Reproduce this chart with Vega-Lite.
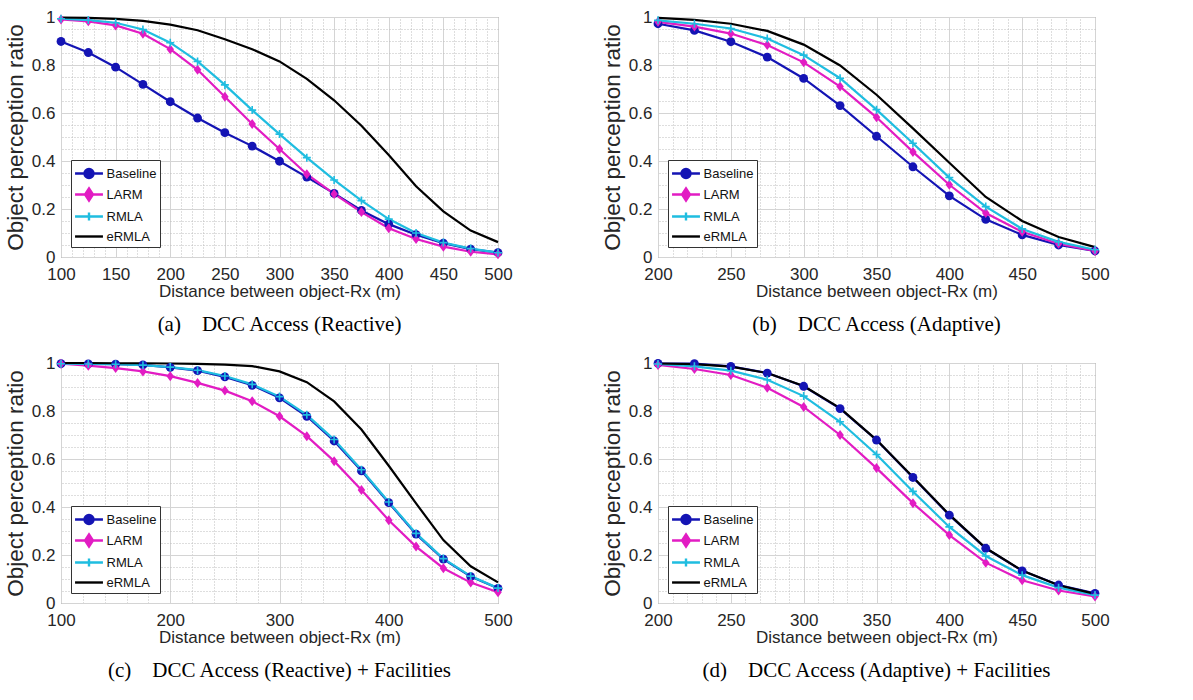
{
  "$schema": "https://vega.github.io/schema/vega-lite/v6.json",
  "padding": {"left": 3, "top": 7, "right": 5, "bottom": 5},
  "background": "white",
  "config": {
    "view": {"stroke": "#737373", "strokeWidth": 1},
    "axis": {"labelFont": "Liberation Sans", "titleFont": "Liberation Sans", "labelFontSize": 17, "titleFontSize": 17, "labelColor": "#262626", "titleColor": "#262626", "titleFontWeight": "normal", "domain": false, "ticks": false, "grid": true, "gridColor": "#d4d4d4", "gridWidth": 1, "labelFlush": false},
    "axisX": {"labelPadding": 9, "titlePadding": 1},
    "axisY": {"labelPadding": 6, "titlePadding": 4},
    "title": {"font": "Liberation Serif", "fontSize": 21, "fontWeight": "normal", "color": "#000000", "orient": "bottom", "offset": 15, "frame": "group", "anchor": "middle"},
    "legend": {"orient": "bottom-left", "offset": 10, "padding": 3, "rowPadding": 0, "symbolSize": 324, "symbolStrokeWidth": 2.4, "symbolOpacity": 1, "symbolOffset": 4.5, "labelFont": "Liberation Sans", "labelFontSize": 13, "labelOffset": 7, "labelColor": "#111111", "strokeColor": "#333333", "fillColor": "#ffffff", "cornerRadius": 0,
      "symbolType": {"expr": "datum.value === 'Baseline' ? 'M-1.55,0H1.55M0.5,0A0.5,0.5,0,1,1,-0.5,0A0.5,0.5,0,1,1,0.5,0Z' : datum.value === 'LARM' ? 'M-1.55,0H1.55M0,-0.67L0.44,0L0,0.67L-0.44,0Z' : datum.value === 'RMLA' ? 'M-1.55,0H1.55M0,-0.44V0.44' : 'M-1.55,0H1.55'"},
      "symbolFillColor": {"expr": "datum.value === 'Baseline' ? '#1414b4' : datum.value === 'LARM' ? '#e21cc3' : 'transparent'"}
    }
  },
  "datasets": {
    "a": [
      {"d":100,"s":"Baseline","r":0.898},{"d":125,"s":"Baseline","r":0.852},{"d":150,"s":"Baseline","r":0.791},{"d":175,"s":"Baseline","r":0.719},{"d":200,"s":"Baseline","r":0.647},{"d":225,"s":"Baseline","r":0.579},{"d":250,"s":"Baseline","r":0.518},{"d":275,"s":"Baseline","r":0.462},{"d":300,"s":"Baseline","r":0.399},{"d":325,"s":"Baseline","r":0.333},{"d":350,"s":"Baseline","r":0.265},{"d":375,"s":"Baseline","r":0.194},{"d":400,"s":"Baseline","r":0.137},{"d":425,"s":"Baseline","r":0.093},{"d":450,"s":"Baseline","r":0.058},{"d":475,"s":"Baseline","r":0.033},{"d":500,"s":"Baseline","r":0.018},
      {"d":100,"s":"LARM","r":0.99},{"d":125,"s":"LARM","r":0.982},{"d":150,"s":"LARM","r":0.965},{"d":175,"s":"LARM","r":0.93},{"d":200,"s":"LARM","r":0.866},{"d":225,"s":"LARM","r":0.78},{"d":250,"s":"LARM","r":0.668},{"d":275,"s":"LARM","r":0.554},{"d":300,"s":"LARM","r":0.45},{"d":325,"s":"LARM","r":0.345},{"d":350,"s":"LARM","r":0.263},{"d":375,"s":"LARM","r":0.187},{"d":400,"s":"LARM","r":0.12},{"d":425,"s":"LARM","r":0.075},{"d":450,"s":"LARM","r":0.043},{"d":475,"s":"LARM","r":0.022},{"d":500,"s":"LARM","r":0.011},
      {"d":100,"s":"RMLA","r":0.993},{"d":125,"s":"RMLA","r":0.987},{"d":150,"s":"RMLA","r":0.976},{"d":175,"s":"RMLA","r":0.948},{"d":200,"s":"RMLA","r":0.893},{"d":225,"s":"RMLA","r":0.815},{"d":250,"s":"RMLA","r":0.717},{"d":275,"s":"RMLA","r":0.612},{"d":300,"s":"RMLA","r":0.512},{"d":325,"s":"RMLA","r":0.414},{"d":350,"s":"RMLA","r":0.321},{"d":375,"s":"RMLA","r":0.235},{"d":400,"s":"RMLA","r":0.158},{"d":425,"s":"RMLA","r":0.1},{"d":450,"s":"RMLA","r":0.06},{"d":475,"s":"RMLA","r":0.035},{"d":500,"s":"RMLA","r":0.018},
      {"d":100,"s":"eRMLA","r":0.998},{"d":125,"s":"eRMLA","r":0.996},{"d":150,"s":"eRMLA","r":0.992},{"d":175,"s":"eRMLA","r":0.984},{"d":200,"s":"eRMLA","r":0.968},{"d":225,"s":"eRMLA","r":0.945},{"d":250,"s":"eRMLA","r":0.907},{"d":275,"s":"eRMLA","r":0.866},{"d":300,"s":"eRMLA","r":0.815},{"d":325,"s":"eRMLA","r":0.742},{"d":350,"s":"eRMLA","r":0.653},{"d":375,"s":"eRMLA","r":0.547},{"d":400,"s":"eRMLA","r":0.425},{"d":425,"s":"eRMLA","r":0.295},{"d":450,"s":"eRMLA","r":0.19},{"d":475,"s":"eRMLA","r":0.11},{"d":500,"s":"eRMLA","r":0.062}
    ],
    "b": [
      {"d":200,"s":"Baseline","r":0.972},{"d":225,"s":"Baseline","r":0.944},{"d":250,"s":"Baseline","r":0.897},{"d":275,"s":"Baseline","r":0.833},{"d":300,"s":"Baseline","r":0.744},{"d":325,"s":"Baseline","r":0.631},{"d":350,"s":"Baseline","r":0.503},{"d":375,"s":"Baseline","r":0.376},{"d":400,"s":"Baseline","r":0.255},{"d":425,"s":"Baseline","r":0.157},{"d":450,"s":"Baseline","r":0.092},{"d":475,"s":"Baseline","r":0.05},{"d":500,"s":"Baseline","r":0.025},
      {"d":200,"s":"LARM","r":0.98},{"d":225,"s":"LARM","r":0.96},{"d":250,"s":"LARM","r":0.931},{"d":275,"s":"LARM","r":0.883},{"d":300,"s":"LARM","r":0.811},{"d":325,"s":"LARM","r":0.71},{"d":350,"s":"LARM","r":0.582},{"d":375,"s":"LARM","r":0.438},{"d":400,"s":"LARM","r":0.301},{"d":425,"s":"LARM","r":0.183},{"d":450,"s":"LARM","r":0.105},{"d":475,"s":"LARM","r":0.055},{"d":500,"s":"LARM","r":0.025},
      {"d":200,"s":"RMLA","r":0.986},{"d":225,"s":"RMLA","r":0.972},{"d":250,"s":"RMLA","r":0.952},{"d":275,"s":"RMLA","r":0.91},{"d":300,"s":"RMLA","r":0.841},{"d":325,"s":"RMLA","r":0.745},{"d":350,"s":"RMLA","r":0.614},{"d":375,"s":"RMLA","r":0.474},{"d":400,"s":"RMLA","r":0.331},{"d":425,"s":"RMLA","r":0.21},{"d":450,"s":"RMLA","r":0.117},{"d":475,"s":"RMLA","r":0.063},{"d":500,"s":"RMLA","r":0.03},
      {"d":200,"s":"eRMLA","r":0.996},{"d":225,"s":"eRMLA","r":0.988},{"d":250,"s":"eRMLA","r":0.972},{"d":275,"s":"eRMLA","r":0.942},{"d":300,"s":"eRMLA","r":0.885},{"d":325,"s":"eRMLA","r":0.798},{"d":350,"s":"eRMLA","r":0.676},{"d":375,"s":"eRMLA","r":0.536},{"d":400,"s":"eRMLA","r":0.393},{"d":425,"s":"eRMLA","r":0.25},{"d":450,"s":"eRMLA","r":0.15},{"d":475,"s":"eRMLA","r":0.083},{"d":500,"s":"eRMLA","r":0.041}
    ],
    "c": [
      {"d":100,"s":"Baseline","r":0.997},{"d":125,"s":"Baseline","r":0.996},{"d":150,"s":"Baseline","r":0.995},{"d":175,"s":"Baseline","r":0.992},{"d":200,"s":"Baseline","r":0.982},{"d":225,"s":"Baseline","r":0.968},{"d":250,"s":"Baseline","r":0.942},{"d":275,"s":"Baseline","r":0.907},{"d":300,"s":"Baseline","r":0.855},{"d":325,"s":"Baseline","r":0.778},{"d":350,"s":"Baseline","r":0.675},{"d":375,"s":"Baseline","r":0.551},{"d":400,"s":"Baseline","r":0.418},{"d":425,"s":"Baseline","r":0.287},{"d":450,"s":"Baseline","r":0.183},{"d":475,"s":"Baseline","r":0.11},{"d":500,"s":"Baseline","r":0.061},
      {"d":100,"s":"LARM","r":0.997},{"d":125,"s":"LARM","r":0.989},{"d":150,"s":"LARM","r":0.979},{"d":175,"s":"LARM","r":0.965},{"d":200,"s":"LARM","r":0.945},{"d":225,"s":"LARM","r":0.917},{"d":250,"s":"LARM","r":0.885},{"d":275,"s":"LARM","r":0.841},{"d":300,"s":"LARM","r":0.778},{"d":325,"s":"LARM","r":0.695},{"d":350,"s":"LARM","r":0.591},{"d":375,"s":"LARM","r":0.471},{"d":400,"s":"LARM","r":0.345},{"d":425,"s":"LARM","r":0.235},{"d":450,"s":"LARM","r":0.145},{"d":475,"s":"LARM","r":0.085},{"d":500,"s":"LARM","r":0.045},
      {"d":100,"s":"RMLA","r":0.997},{"d":125,"s":"RMLA","r":0.996},{"d":150,"s":"RMLA","r":0.995},{"d":175,"s":"RMLA","r":0.991},{"d":200,"s":"RMLA","r":0.983},{"d":225,"s":"RMLA","r":0.97},{"d":250,"s":"RMLA","r":0.946},{"d":275,"s":"RMLA","r":0.911},{"d":300,"s":"RMLA","r":0.86},{"d":325,"s":"RMLA","r":0.784},{"d":350,"s":"RMLA","r":0.681},{"d":375,"s":"RMLA","r":0.555},{"d":400,"s":"RMLA","r":0.421},{"d":425,"s":"RMLA","r":0.29},{"d":450,"s":"RMLA","r":0.185},{"d":475,"s":"RMLA","r":0.112},{"d":500,"s":"RMLA","r":0.062},
      {"d":100,"s":"eRMLA","r":1.0},{"d":125,"s":"eRMLA","r":1.0},{"d":150,"s":"eRMLA","r":0.999},{"d":175,"s":"eRMLA","r":0.999},{"d":200,"s":"eRMLA","r":0.998},{"d":225,"s":"eRMLA","r":0.996},{"d":250,"s":"eRMLA","r":0.993},{"d":275,"s":"eRMLA","r":0.987},{"d":300,"s":"eRMLA","r":0.965},{"d":325,"s":"eRMLA","r":0.92},{"d":350,"s":"eRMLA","r":0.84},{"d":375,"s":"eRMLA","r":0.723},{"d":400,"s":"eRMLA","r":0.572},{"d":425,"s":"eRMLA","r":0.415},{"d":450,"s":"eRMLA","r":0.262},{"d":475,"s":"eRMLA","r":0.153},{"d":500,"s":"eRMLA","r":0.086}
    ],
    "d": [
      {"d":200,"s":"Baseline","r":0.998},{"d":225,"s":"Baseline","r":0.997},{"d":250,"s":"Baseline","r":0.986},{"d":275,"s":"Baseline","r":0.958},{"d":300,"s":"Baseline","r":0.903},{"d":325,"s":"Baseline","r":0.81},{"d":350,"s":"Baseline","r":0.679},{"d":375,"s":"Baseline","r":0.523},{"d":400,"s":"Baseline","r":0.366},{"d":425,"s":"Baseline","r":0.228},{"d":450,"s":"Baseline","r":0.134},{"d":475,"s":"Baseline","r":0.075},{"d":500,"s":"Baseline","r":0.04},
      {"d":200,"s":"LARM","r":0.992},{"d":225,"s":"LARM","r":0.975},{"d":250,"s":"LARM","r":0.95},{"d":275,"s":"LARM","r":0.897},{"d":300,"s":"LARM","r":0.817},{"d":325,"s":"LARM","r":0.7},{"d":350,"s":"LARM","r":0.562},{"d":375,"s":"LARM","r":0.416},{"d":400,"s":"LARM","r":0.283},{"d":425,"s":"LARM","r":0.168},{"d":450,"s":"LARM","r":0.095},{"d":475,"s":"LARM","r":0.052},{"d":500,"s":"LARM","r":0.027},
      {"d":200,"s":"RMLA","r":0.996},{"d":225,"s":"RMLA","r":0.986},{"d":250,"s":"RMLA","r":0.968},{"d":275,"s":"RMLA","r":0.93},{"d":300,"s":"RMLA","r":0.862},{"d":325,"s":"RMLA","r":0.755},{"d":350,"s":"RMLA","r":0.619},{"d":375,"s":"RMLA","r":0.465},{"d":400,"s":"RMLA","r":0.317},{"d":425,"s":"RMLA","r":0.196},{"d":450,"s":"RMLA","r":0.116},{"d":475,"s":"RMLA","r":0.064},{"d":500,"s":"RMLA","r":0.033},
      {"d":200,"s":"eRMLA","r":0.998},{"d":225,"s":"eRMLA","r":0.995},{"d":250,"s":"eRMLA","r":0.985},{"d":275,"s":"eRMLA","r":0.958},{"d":300,"s":"eRMLA","r":0.904},{"d":325,"s":"eRMLA","r":0.812},{"d":350,"s":"eRMLA","r":0.68},{"d":375,"s":"eRMLA","r":0.525},{"d":400,"s":"eRMLA","r":0.368},{"d":425,"s":"eRMLA","r":0.229},{"d":450,"s":"eRMLA","r":0.135},{"d":475,"s":"eRMLA","r":0.074},{"d":500,"s":"eRMLA","r":0.038}
    ]
  },
  "resolve": {"scale": {"color": "independent"}, "legend": {"color": "independent"}},
  "spacing": 17,
  "vconcat": [
    {
      "bounds": "flush",
      "spacing": 160,
      "resolve": {"scale": {"color": "independent"}, "legend": {"color": "independent"}},
      "hconcat": [
        {
          "width": 437, "height": 240,
          "data": {"name": "a"},
          "title": {"text": "(a)\u00a0\u00a0\u00a0\u00a0DCC Access (Reactive)"},
          "resolve": {"axis": {"x": "independent", "y": "independent"}},
          "layer": [
            {
              "mark": {"type": "line", "strokeWidth": 2.2},
              "encoding": {
                "x": {"field": "d", "type": "quantitative", "scale": {"domain": [100, 500], "nice": false, "zero": false}, "axis": {"values": [100,150,200,250,300,350,400,450,500], "format": "d", "title": "Distance between object-Rx (m)"}},
                "y": {"field": "r", "type": "quantitative", "scale": {"domain": [0, 1], "nice": false, "zero": false}, "axis": {"values": [0,0.2,0.4,0.6,0.8,1], "format": "~g", "title": "Object perception ratio", "titleFontSize": 22.5}},
                "color": {"field": "s", "type": "nominal", "scale": {"domain": ["Baseline","LARM","RMLA","eRMLA"], "range": ["#1414b4","#e21cc3","#1fbde0","#000000"]}, "legend": {"title": null}}
              }
            },
            {
              "transform": [{"filter": "datum.s === 'Baseline'"}],
              "mark": {"type": "point", "shape": "circle", "filled": true, "size": 78, "color": "#1414b4", "opacity": 1},
              "encoding": {
                "x": {"field": "d", "type": "quantitative", "axis": {"orient": "top", "values": [110,120,130,140,160,170,180,190,210,220,230,240,260,270,280,290,310,320,330,340,360,370,380,390,410,420,430,440,460,470,480,490], "grid": true, "gridDash": [1,2], "gridColor": "#bdbdbd", "labels": false, "title": null}},
                "y": {"field": "r", "type": "quantitative", "axis": {"orient": "right", "values": [0.05,0.1,0.15,0.25,0.3,0.35,0.45,0.5,0.55,0.65,0.7,0.75,0.85,0.9,0.95], "grid": true, "gridDash": [1,2], "gridColor": "#bdbdbd", "labels": false, "title": null}}
              }
            },
            {
              "transform": [{"filter": "datum.s === 'LARM'"}],
              "mark": {"type": "point", "shape": "M0,-1L0.75,0L0,1L-0.75,0Z", "filled": true, "size": 100, "color": "#e21cc3", "opacity": 1},
              "encoding": {"x": {"field": "d", "type": "quantitative", "axis": null}, "y": {"field": "r", "type": "quantitative", "axis": null}}
            },
            {
              "transform": [{"filter": "datum.s === 'RMLA'"}],
              "mark": {"type": "point", "shape": "M-1,0H1M0,-1V1", "filled": false, "size": 64, "strokeWidth": 1.6, "color": "#1fbde0", "opacity": 1},
              "encoding": {"x": {"field": "d", "type": "quantitative", "axis": null}, "y": {"field": "r", "type": "quantitative", "axis": null}}
            }
          ]
        },
        {
          "width": 437, "height": 240,
          "data": {"name": "b"},
          "title": {"text": "(b)\u00a0\u00a0\u00a0\u00a0DCC Access (Adaptive)"},
          "resolve": {"axis": {"x": "independent", "y": "independent"}},
          "layer": [
            {
              "mark": {"type": "line", "strokeWidth": 2.2},
              "encoding": {
                "x": {"field": "d", "type": "quantitative", "scale": {"domain": [200, 500], "nice": false, "zero": false}, "axis": {"values": [200,250,300,350,400,450,500], "format": "d", "title": "Distance between object-Rx (m)"}},
                "y": {"field": "r", "type": "quantitative", "scale": {"domain": [0, 1], "nice": false, "zero": false}, "axis": {"values": [0,0.2,0.4,0.6,0.8,1], "format": "~g", "title": "Object perception ratio", "titleFontSize": 22.5}},
                "color": {"field": "s", "type": "nominal", "scale": {"domain": ["Baseline","LARM","RMLA","eRMLA"], "range": ["#1414b4","#e21cc3","#1fbde0","#000000"]}, "legend": {"title": null}}
              }
            },
            {
              "transform": [{"filter": "datum.s === 'Baseline'"}],
              "mark": {"type": "point", "shape": "circle", "filled": true, "size": 78, "color": "#1414b4", "opacity": 1},
              "encoding": {
                "x": {"field": "d", "type": "quantitative", "axis": {"orient": "top", "values": [210,220,230,240,260,270,280,290,310,320,330,340,360,370,380,390,410,420,430,440,460,470,480,490], "grid": true, "gridDash": [1,2], "gridColor": "#bdbdbd", "labels": false, "title": null}},
                "y": {"field": "r", "type": "quantitative", "axis": {"orient": "right", "values": [0.05,0.1,0.15,0.25,0.3,0.35,0.45,0.5,0.55,0.65,0.7,0.75,0.85,0.9,0.95], "grid": true, "gridDash": [1,2], "gridColor": "#bdbdbd", "labels": false, "title": null}}
              }
            },
            {
              "transform": [{"filter": "datum.s === 'LARM'"}],
              "mark": {"type": "point", "shape": "M0,-1L0.75,0L0,1L-0.75,0Z", "filled": true, "size": 100, "color": "#e21cc3", "opacity": 1},
              "encoding": {"x": {"field": "d", "type": "quantitative", "axis": null}, "y": {"field": "r", "type": "quantitative", "axis": null}}
            },
            {
              "transform": [{"filter": "datum.s === 'RMLA'"}],
              "mark": {"type": "point", "shape": "M-1,0H1M0,-1V1", "filled": false, "size": 64, "strokeWidth": 1.6, "color": "#1fbde0", "opacity": 1},
              "encoding": {"x": {"field": "d", "type": "quantitative", "axis": null}, "y": {"field": "r", "type": "quantitative", "axis": null}}
            }
          ]
        }
      ]
    },
    {
      "bounds": "flush",
      "spacing": 160,
      "resolve": {"scale": {"color": "independent"}, "legend": {"color": "independent"}},
      "hconcat": [
        {
          "width": 437, "height": 240,
          "data": {"name": "c"},
          "title": {"text": "(c)\u00a0\u00a0\u00a0\u00a0DCC Access (Reactive) + Facilities"},
          "resolve": {"axis": {"x": "independent", "y": "independent"}},
          "layer": [
            {
              "mark": {"type": "line", "strokeWidth": 2.2},
              "encoding": {
                "x": {"field": "d", "type": "quantitative", "scale": {"domain": [100, 500], "nice": false, "zero": false}, "axis": {"values": [100,200,300,400,500], "format": "d", "title": "Distance between object-Rx (m)"}},
                "y": {"field": "r", "type": "quantitative", "scale": {"domain": [0, 1], "nice": false, "zero": false}, "axis": {"values": [0,0.2,0.4,0.6,0.8,1], "format": "~g", "title": "Object perception ratio", "titleFontSize": 22.5}},
                "color": {"field": "s", "type": "nominal", "scale": {"domain": ["Baseline","LARM","RMLA","eRMLA"], "range": ["#1414b4","#e21cc3","#1fbde0","#000000"]}, "legend": {"title": null}}
              }
            },
            {
              "transform": [{"filter": "datum.s === 'Baseline'"}],
              "mark": {"type": "point", "shape": "circle", "filled": true, "size": 78, "color": "#1414b4", "opacity": 1},
              "encoding": {
                "x": {"field": "d", "type": "quantitative", "axis": {"orient": "top", "values": [120,140,160,180,220,240,260,280,320,340,360,380,420,440,460,480], "grid": true, "gridDash": [1,2], "gridColor": "#bdbdbd", "labels": false, "title": null}},
                "y": {"field": "r", "type": "quantitative", "axis": {"orient": "right", "values": [0.05,0.1,0.15,0.25,0.3,0.35,0.45,0.5,0.55,0.65,0.7,0.75,0.85,0.9,0.95], "grid": true, "gridDash": [1,2], "gridColor": "#bdbdbd", "labels": false, "title": null}}
              }
            },
            {
              "transform": [{"filter": "datum.s === 'LARM'"}],
              "mark": {"type": "point", "shape": "M0,-1L0.75,0L0,1L-0.75,0Z", "filled": true, "size": 100, "color": "#e21cc3", "opacity": 1},
              "encoding": {"x": {"field": "d", "type": "quantitative", "axis": null}, "y": {"field": "r", "type": "quantitative", "axis": null}}
            },
            {
              "transform": [{"filter": "datum.s === 'RMLA'"}],
              "mark": {"type": "point", "shape": "M-1,0H1M0,-1V1", "filled": false, "size": 64, "strokeWidth": 1.6, "color": "#1fbde0", "opacity": 1},
              "encoding": {"x": {"field": "d", "type": "quantitative", "axis": null}, "y": {"field": "r", "type": "quantitative", "axis": null}}
            }
          ]
        },
        {
          "width": 437, "height": 240,
          "data": {"name": "d"},
          "title": {"text": "(d)\u00a0\u00a0\u00a0\u00a0DCC Access (Adaptive) + Facilities"},
          "resolve": {"axis": {"x": "independent", "y": "independent"}},
          "layer": [
            {
              "mark": {"type": "line", "strokeWidth": 2.2},
              "encoding": {
                "x": {"field": "d", "type": "quantitative", "scale": {"domain": [200, 500], "nice": false, "zero": false}, "axis": {"values": [200,250,300,350,400,450,500], "format": "d", "title": "Distance between object-Rx (m)"}},
                "y": {"field": "r", "type": "quantitative", "scale": {"domain": [0, 1], "nice": false, "zero": false}, "axis": {"values": [0,0.2,0.4,0.6,0.8,1], "format": "~g", "title": "Object perception ratio", "titleFontSize": 22.5}},
                "color": {"field": "s", "type": "nominal", "scale": {"domain": ["Baseline","LARM","RMLA","eRMLA"], "range": ["#1414b4","#e21cc3","#1fbde0","#000000"]}, "legend": {"title": null}}
              }
            },
            {
              "transform": [{"filter": "datum.s === 'Baseline'"}],
              "mark": {"type": "point", "shape": "circle", "filled": true, "size": 78, "color": "#1414b4", "opacity": 1},
              "encoding": {
                "x": {"field": "d", "type": "quantitative", "axis": {"orient": "top", "values": [210,220,230,240,260,270,280,290,310,320,330,340,360,370,380,390,410,420,430,440,460,470,480,490], "grid": true, "gridDash": [1,2], "gridColor": "#bdbdbd", "labels": false, "title": null}},
                "y": {"field": "r", "type": "quantitative", "axis": {"orient": "right", "values": [0.05,0.1,0.15,0.25,0.3,0.35,0.45,0.5,0.55,0.65,0.7,0.75,0.85,0.9,0.95], "grid": true, "gridDash": [1,2], "gridColor": "#bdbdbd", "labels": false, "title": null}}
              }
            },
            {
              "transform": [{"filter": "datum.s === 'LARM'"}],
              "mark": {"type": "point", "shape": "M0,-1L0.75,0L0,1L-0.75,0Z", "filled": true, "size": 100, "color": "#e21cc3", "opacity": 1},
              "encoding": {"x": {"field": "d", "type": "quantitative", "axis": null}, "y": {"field": "r", "type": "quantitative", "axis": null}}
            },
            {
              "transform": [{"filter": "datum.s === 'RMLA'"}],
              "mark": {"type": "point", "shape": "M-1,0H1M0,-1V1", "filled": false, "size": 64, "strokeWidth": 1.6, "color": "#1fbde0", "opacity": 1},
              "encoding": {"x": {"field": "d", "type": "quantitative", "axis": null}, "y": {"field": "r", "type": "quantitative", "axis": null}}
            }
          ]
        }
      ]
    }
  ]
}
